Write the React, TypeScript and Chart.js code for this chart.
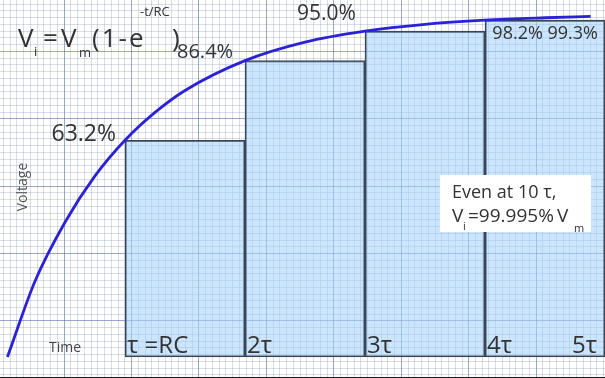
import { useEffect, useRef } from 'react';
import { Chart, registerables } from 'chart.js';

Chart.register(...registerables);

// ---- data (time in units of τ, voltage in % of Vm) ----
const barStartsTau = [1, 2, 3, 4];
const barValues = [63.2, 86.4, 95.0, 98.2];
const curveTau = [0.02, 0.25, 0.5, 0.75, 1, 1.25, 1.5, 2, 2.5, 3, 3.5, 4, 4.5, 4.88];
const curveValues = [0, 22.1, 39.3, 52.8, 63.2, 71.3, 77.7, 86.4, 91.8, 95.0, 97.0, 98.2, 98.9, 99.3];
const tauLabels = ['τ =RC', '2τ', '3τ', '4τ', '5τ'];
const percentLabels = ['63.2%', '86.4%', '95.0%', '98.2% 99.3%'];

const F = '"Open Sans", "DejaVu Sans", sans-serif';
const TEXT = '#333333';

const range = (a: number, b: number) => {
  const r: number[] = [];
  for (let i = a; i <= b; i++) r.push(i);
  return r;
};

const textPlugin = {
  id: 'rcText',
  afterDatasetsDraw(chart: any) {
    const ctx = chart.ctx as CanvasRenderingContext2D;
    const xs = chart.scales.x;
    const ys = chart.scales.y;
    ctx.save();
    ctx.fillStyle = TEXT;
    ctx.textBaseline = 'alphabetic';

    const put = (t: string, x: number, y: number, size: number, align: CanvasTextAlign = 'left', spacing = 0) => {
      ctx.font = `${size}px ${F}`;
      (ctx as any).letterSpacing = `${spacing}px`;
      ctx.textAlign = align;
      ctx.fillText(t, x, y);
      (ctx as any).letterSpacing = '0px';
    };

    // formula
    put('V', 18, 47, 26);
    put('i', 34, 56, 13);
    put('=', 43, 47, 26);
    put('V', 61, 47, 26);
    put('m', 79, 57, 13);
    put('(1-e', 92, 47, 26, 'left', 2);
    put('-t/RC', 140, 16, 13);
    put(')', 172, 47, 26);

    // percentage labels near the curve points
    const p1x = xs.getPixelForValue(1);
    const p1y = ys.getPixelForValue(barValues[0]);
    put(percentLabels[0], p1x - 9, p1y + 1, 23, 'right');
    put(percentLabels[1], 177, 58, 20);
    put(percentLabels[2], 297, 20, 21);
    put(percentLabels[3], 598, 39, 18, 'right');

    // tau labels along bottom
    const by = ys.getPixelForValue(0) - 4;
    tauLabels.forEach((t, i) => {
      if (i < 4) {
        put(t, xs.getPixelForValue(i + 1) + 2, by, 24);
      } else {
        put(t, xs.getPixelForValue(5) - 8, by, 24, 'right');
      }
    });

    // axis names
    ctx.fillStyle = '#444';
    put('Time', 49, 352, 14);
    ctx.save();
    ctx.translate(27, 187);
    ctx.rotate(-Math.PI / 2);
    ctx.font = `14px ${F}`;
    ctx.fillStyle = '#555';
    ctx.textAlign = 'center';
    ctx.fillText('Voltage', 0, 0);
    ctx.restore();

    // info box
    ctx.fillStyle = '#ffffff';
    ctx.fillRect(440, 175, 151, 57);
    ctx.fillStyle = TEXT;
    put('Even at 10 τ,', 452, 198, 18);
    put('V', 452, 222, 19);
    put('i', 463, 230, 11);
    put('=99.995%', 468, 222, 19);
    put('V', 557, 222, 19);
    put('m', 574, 232, 11);

    ctx.restore();
  },
};

export default function App() {
  const ref = useRef<HTMLCanvasElement | null>(null);

  useEffect(() => {
    document.body.style.margin = '0';
    const canvas = ref.current;
    if (!canvas) return;

    const minorColor = 'rgba(110,130,175,0.27)';
    const majorColor = 'rgba(90,110,165,0.6)';
    const gridColor = (c: any) => (c.tick && Math.round(c.tick.value) % 10 === 0 ? majorColor : minorColor);

    const chart = new Chart(canvas, {
      type: 'bar',
      data: {
        datasets: [
          {
            type: 'line',
            data: curveTau.map((t, i) => ({ x: t, y: curveValues[i] })),
            borderColor: '#2b22d6',
            borderWidth: 2.8,
            pointRadius: 0,
            cubicInterpolationMode: 'monotone',
            fill: false,
            order: 0,
          } as any,
          {
            type: 'bar',
            data: barStartsTau.map((t, i) => ({ x: t + 0.5, y: barValues[i] })),
            backgroundColor: 'rgba(165,210,250,0.58)',
            borderColor: '#3c4550',
            borderWidth: 1.5,
            borderSkipped: false,
            barPercentage: 1,
            categoryPercentage: 1,
            grouped: false,
            order: 1,
          } as any,
        ],
      },
      options: {
        responsive: false,
        animation: false,
        layout: { padding: 0 },
        plugins: { legend: { display: false }, tooltip: { enabled: false } },
        scales: {
          x: { type: 'linear', min: -0.0417, max: 5.0, display: false, offset: false },
          y: { type: 'linear', min: -6.12, max: 104.08, display: false },
          x2: {
            type: 'linear',
            position: 'bottom',
            min: 0,
            max: 89.7,
            offset: false,
            afterBuildTicks: (s: any) => {
              s.ticks = range(0, 89).map((v) => ({ value: v }));
            },
            ticks: { display: false },
            grid: { color: gridColor, lineWidth: 1, drawTicks: false },
            border: { display: true, color: '#1e1e1e', width: 3 },
          },
          y2: {
            type: 'linear',
            position: 'left',
            min: 1.543,
            max: 57.62,
            afterBuildTicks: (s: any) => {
              s.ticks = range(2, 57).map((v) => ({ value: v }));
            },
            ticks: { display: false },
            grid: { color: gridColor, lineWidth: 1, drawTicks: false },
            border: { display: false },
          },
        } as any,
      },
      plugins: [textPlugin],
    });
    return () => chart.destroy();
  }, []);

  return <canvas ref={ref} width={605} height={378} style={{ display: 'block' }} />;
}
